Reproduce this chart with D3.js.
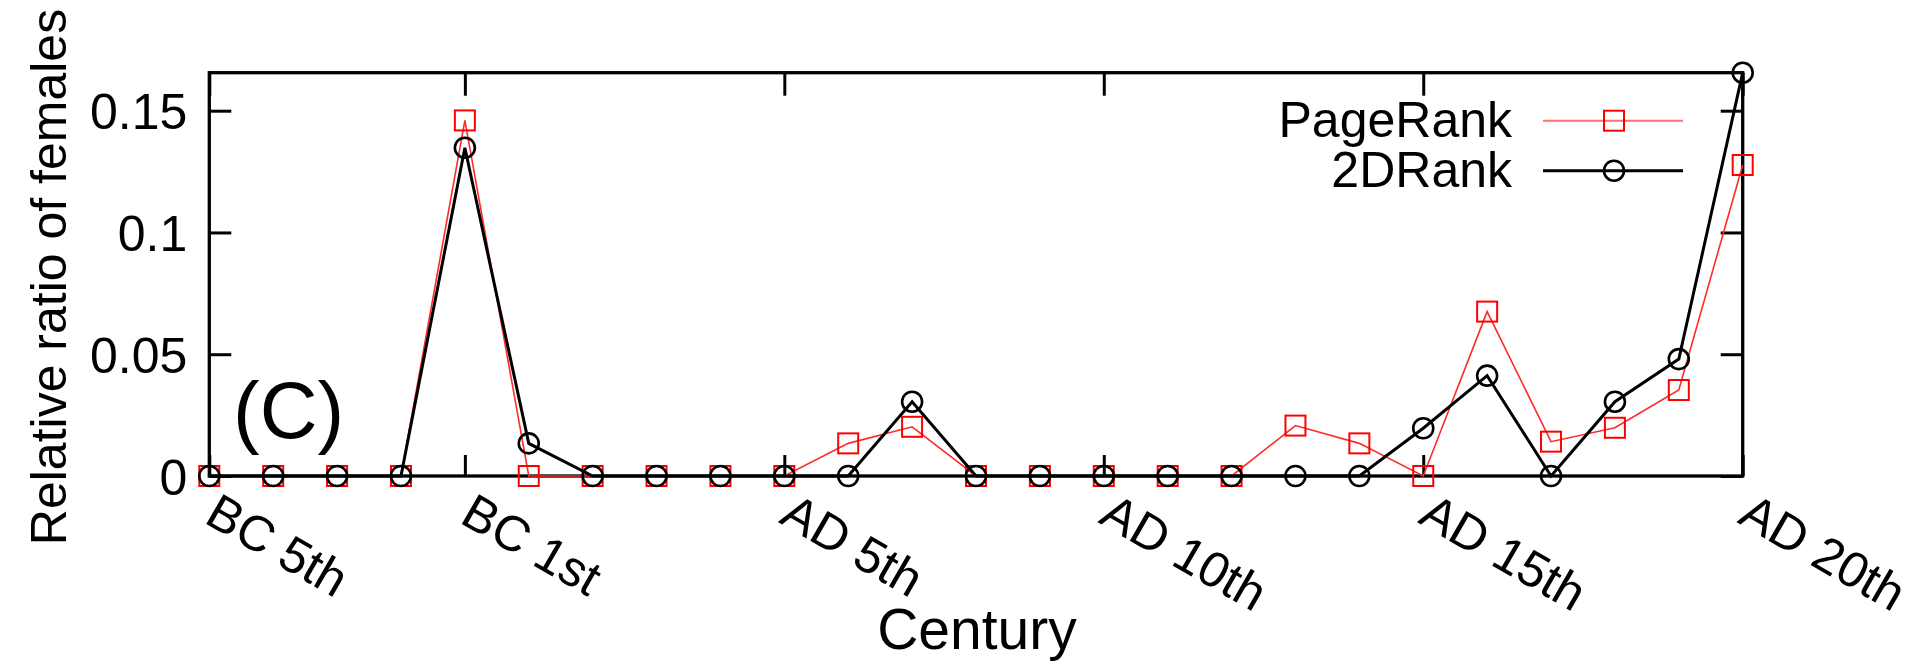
<!DOCTYPE html>
<html>
<head>
<meta charset="utf-8">
<script src="https://cdn.jsdelivr.net/npm/d3@7"></script>
<style>
  html, body { margin: 0; padding: 0; background: #ffffff; }
  svg { display: block; }
  text { font-family: "Liberation Sans", Arial, Helvetica, sans-serif; fill: #000; }
</style>
</head>
<body>
<svg id="chart" width="1915" height="663"></svg>
<script>
// ---- data ----
const centuries = ["BC 5th","BC 4th","BC 3rd","BC 2nd","BC 1st",
  "AD 1st","AD 2nd","AD 3rd","AD 4th","AD 5th","AD 6th","AD 7th","AD 8th","AD 9th","AD 10th",
  "AD 11th","AD 12th","AD 13th","AD 14th","AD 15th","AD 16th","AD 17th","AD 18th","AD 19th","AD 20th"];
const pageRank = [0,0,0,0,0.146,0,0,0,0,0,0.0134,0.0202,0,0,0,0,0,0.0207,0.0134,0,0.0675,0.0141,0.0198,0.0353,0.1277];
const twoDRank = [0,0,0,0,0.1348,0.0134,0,0,0,0,0,0.0305,0,0,0,0,0,0,0,0.0196,0.0412,0,0.0305,0.048,0.1656];
const xTickLabels = ["BC 5th","BC 1st","AD 5th","AD 10th","AD 15th","AD 20th"];
const yTickValues = [0, 0.05, 0.1, 0.15];
const seriesNames = ["PageRank", "2DRank"];
const yMax = 0.1656;

(function () {
// ---- layout ----
const svg = d3.select("#chart");
const pLeft = 209.3, pRight = 1742.7, pTop = 72.7, pBottom = 476;

const x = d3.scalePoint().domain(centuries).range([pLeft, pRight]);
const y = d3.scaleLinear().domain([0, yMax]).range([pBottom, pTop]);

const fmt = d => d === 0 ? "0" : String(d);

// axes
const gLeft = svg.append("g").attr("transform", `translate(${pLeft},0)`)
  .call(d3.axisLeft(y).tickValues(yTickValues).tickSizeInner(-22).tickSizeOuter(0).tickPadding(22).tickFormat(fmt));
const gRight = svg.append("g").attr("transform", `translate(${pRight},0)`)
  .call(d3.axisRight(y).tickValues(yTickValues).tickSizeInner(-22).tickSizeOuter(0).tickFormat(""));
const gBottom = svg.append("g").attr("transform", `translate(0,${pBottom})`)
  .call(d3.axisBottom(x).tickValues(xTickLabels).tickSizeInner(-21).tickSizeOuter(0));
const gTop = svg.append("g").attr("transform", `translate(0,${pTop})`)
  .call(d3.axisTop(x).tickValues(xTickLabels).tickSizeInner(-23).tickSizeOuter(0).tickFormat(""));

[gLeft, gRight, gBottom, gTop].forEach(g => {
  g.select(".domain").remove();
  g.selectAll(".tick line").attr("stroke", "#000").attr("stroke-width", 3);
});
gRight.selectAll(".tick text").remove();
gTop.selectAll(".tick text").remove();

gLeft.selectAll(".tick text")
  .attr("font-size", 50).attr("font-family", "Liberation Sans, Arial, sans-serif")
  .attr("fill", "#000").attr("dy", "0.36em");
gBottom.selectAll(".tick text")
  .attr("font-size", 50).attr("font-family", "Liberation Sans, Arial, sans-serif")
  .attr("fill", "#000").attr("text-anchor", "start")
  .attr("x", null).attr("y", null).attr("dy", null)
  .attr("transform", "translate(-7,46) rotate(30)");

// frame
svg.append("rect")
  .attr("x", pLeft).attr("y", pTop)
  .attr("width", pRight - pLeft).attr("height", pBottom - pTop)
  .attr("fill", "none").attr("stroke", "#000").attr("stroke-width", 3.3);

// series
const line = d3.line().x((d, i) => x(centuries[i])).y(d => y(d));

svg.append("path").datum(pageRank)
  .attr("d", line).attr("fill", "none")
  .attr("stroke", "#ff2a2a").attr("stroke-width", 1.6);
svg.append("g").selectAll("rect").data(pageRank).join("rect")
  .attr("x", (d, i) => x(centuries[i]) - 10)
  .attr("y", d => y(d) - 10)
  .attr("width", 20).attr("height", 20)
  .attr("fill", "none").attr("stroke", "#ff0000").attr("stroke-width", 2);

svg.append("path").datum(twoDRank)
  .attr("d", line).attr("fill", "none")
  .attr("stroke", "#000").attr("stroke-width", 3);
svg.append("g").selectAll("circle").data(twoDRank).join("circle")
  .attr("cx", (d, i) => x(centuries[i]))
  .attr("cy", d => y(d))
  .attr("r", 10)
  .attr("fill", "none").attr("stroke", "#000").attr("stroke-width", 2.6);

// legend
const legendTextX = 1512, legLineX1 = 1543, legLineX2 = 1683, legMarkX = 1614;
const legendRows = [
  { name: seriesNames[0], ly: 120.7, color: "#ff7070", w: 2, marker: "square" },
  { name: seriesNames[1], ly: 170.7, color: "#000", w: 3, marker: "circle" }
];
legendRows.forEach(r => {
  svg.append("text").attr("x", legendTextX).attr("y", r.ly + 16)
    .attr("text-anchor", "end").attr("font-size", 50).text(r.name);
  svg.append("line").attr("x1", legLineX1).attr("x2", legLineX2)
    .attr("y1", r.ly).attr("y2", r.ly)
    .attr("stroke", r.color).attr("stroke-width", r.w);
  if (r.marker === "square") {
    svg.append("rect").attr("x", legMarkX - 10).attr("y", r.ly - 10)
      .attr("width", 20).attr("height", 20)
      .attr("fill", "none").attr("stroke", "#ff0000").attr("stroke-width", 2);
  } else {
    svg.append("circle").attr("cx", legMarkX).attr("cy", r.ly).attr("r", 10)
      .attr("fill", "none").attr("stroke", "#000").attr("stroke-width", 2.6);
  }
});

// titles
svg.append("text").attr("transform", "translate(66,277) rotate(-90)")
  .attr("text-anchor", "middle").attr("font-size", 50)
  .text("Relative ratio of females");
svg.append("text").attr("x", 977).attr("y", 649)
  .attr("text-anchor", "middle").attr("font-size", 57)
  .text("Century");
svg.append("text").attr("x", 233).attr("y", 438)
  .attr("font-size", 80)
  .text("(C)");
})();
</script>
</body>
</html>
